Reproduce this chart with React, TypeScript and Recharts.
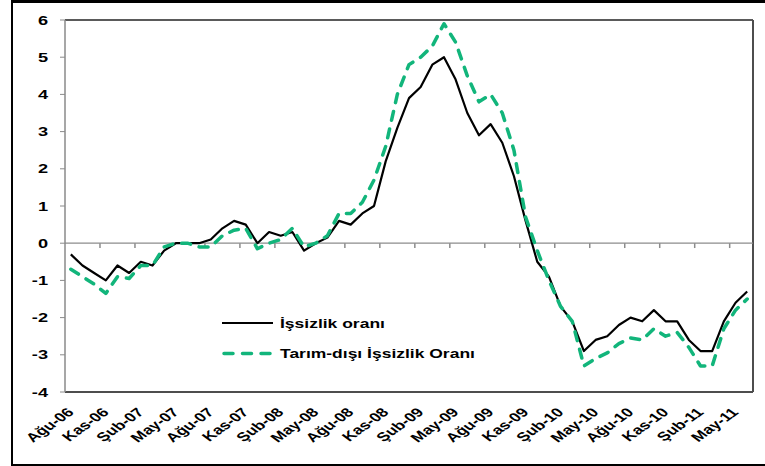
import React from 'react';
import { LineChart, Line, XAxis, YAxis, ReferenceLine, Legend } from 'recharts';

// Monthly categories (Ağu-06 .. Haz-11)
const months = [
  'Ağu-06', 'Eyl-06', 'Eki-06', 'Kas-06', 'Ara-06',
  'Oca-07', 'Şub-07', 'Mar-07', 'Nis-07', 'May-07', 'Haz-07', 'Tem-07', 'Ağu-07', 'Eyl-07', 'Eki-07', 'Kas-07', 'Ara-07',
  'Oca-08', 'Şub-08', 'Mar-08', 'Nis-08', 'May-08', 'Haz-08', 'Tem-08', 'Ağu-08', 'Eyl-08', 'Eki-08', 'Kas-08', 'Ara-08',
  'Oca-09', 'Şub-09', 'Mar-09', 'Nis-09', 'May-09', 'Haz-09', 'Tem-09', 'Ağu-09', 'Eyl-09', 'Eki-09', 'Kas-09', 'Ara-09',
  'Oca-10', 'Şub-10', 'Mar-10', 'Nis-10', 'May-10', 'Haz-10', 'Tem-10', 'Ağu-10', 'Eyl-10', 'Eki-10', 'Kas-10', 'Ara-10',
  'Oca-11', 'Şub-11', 'Mar-11', 'Nis-11', 'May-11', 'Haz-11',
];

// İşsizlik oranı (yıllık değişim, puan)
const issizlik = [
  -0.3, -0.6, -0.8, -1.0, -0.6, -0.8, -0.5, -0.6, -0.2, 0.0,
  0.0, 0.0, 0.1, 0.4, 0.6, 0.5, 0.0, 0.3, 0.2, 0.3,
  -0.2, 0.0, 0.15, 0.6, 0.5, 0.8, 1.0, 2.2, 3.1, 3.9,
  4.2, 4.8, 5.0, 4.4, 3.5, 2.9, 3.2, 2.7, 1.8, 0.6,
  -0.5, -0.9, -1.7, -2.1, -2.9, -2.6, -2.5, -2.2, -2.0, -2.1,
  -1.8, -2.1, -2.1, -2.6, -2.9, -2.9, -2.1, -1.6, -1.3,
];

// Tarım-dışı İşsizlik Oranı
const tarimDisi = [
  -0.7, -0.9, -1.1, -1.35, -0.9, -0.95, -0.6, -0.6, -0.1, 0.0,
  0.0, -0.1, -0.1, 0.2, 0.35, 0.4, -0.15, 0.0, 0.1, 0.4,
  -0.1, 0.0, 0.2, 0.8, 0.8, 1.1, 1.7, 2.6, 4.0, 4.8,
  5.0, 5.3, 5.9, 5.4, 4.5, 3.8, 4.0, 3.5, 2.5, 0.7,
  -0.2, -1.0, -1.7, -2.1, -3.3, -3.1, -2.95, -2.7, -2.55, -2.6,
  -2.3, -2.5, -2.4, -2.8, -3.3, -3.3, -2.3, -1.8, -1.5,
];

const seriesNames = ['İşsizlik oranı', 'Tarım-dışı İşsizlik Oranı'];
const yTicks = [-4, -3, -2, -1, 0, 1, 2, 3, 4, 5, 6];
const labelStep = 3;

const FONT = '"Liberation Sans", Arial, sans-serif';
const SX = 1.4;
const GREEN = '#12b57b';

const data = months.map((m, i) => ({ i, m, a: issizlik[i], b: tarimDisi[i] }));
const xTicks = months.map((_, i) => i).filter((i) => i % labelStep === 0);
const boundaryTicks = months
  .map((_, k) => k)
  .filter((k) => k > 0 && k % labelStep === 0)
  .map((k) => k - 0.5);

const series = [
  { key: 'a', name: seriesNames[0], color: '#000000', width: 2.2, dash: undefined as string | undefined, legendDash: undefined as string | undefined, legendWidth: 2 },
  { key: 'b', name: seriesNames[1], color: GREEN, width: 3.5, dash: '9 9', legendDash: '9 9.5', legendWidth: 3.5 },
];

const XTick = (props: any) => {
  const { x, y, payload } = props;
  return (
    <g transform={`translate(${x + 4},${y + 21})`}>
      <text
        transform={`scale(${SX},1) rotate(-45)`}
        textAnchor="end"
        fontFamily={FONT}
        fontWeight="bold"
        fontSize={12.5}
        fill="#000"
      >
        {months[payload.value]}
      </text>
    </g>
  );
};

const YTick = (props: any) => {
  const { x, y, payload } = props;
  return (
    <g transform={`translate(${x},${y})`}>
      <text
        transform={`scale(${SX},1)`}
        textAnchor="end"
        dy="0.36em"
        fontFamily={FONT}
        fontWeight="bold"
        fontSize={13}
        fill="#000"
      >
        {payload.value}
      </text>
    </g>
  );
};

const renderLegend = (props: any) => {
  const payload = props.payload || [];
  return (
    <svg width={300} height={60} style={{ overflow: 'visible', display: 'block' }}>
      {payload.map((entry: any) => {
        const idx = Math.max(0, series.findIndex((q) => q.key === entry.dataKey));
        const s = series[idx];
        const cy = 18 + idx * 30.5;
        return (
          <g key={s.key}>
            <line
              x1={s.legendDash ? 9 : 7}
              x2={s.legendDash ? 55 : 58}
              y1={cy}
              y2={cy}
              stroke={s.color}
              strokeWidth={s.legendWidth}
              strokeDasharray={s.legendDash}
              strokeLinecap={s.legendDash ? 'round' : 'butt'}
            />
            <text
              transform={`translate(65,${cy + 4.5}) scale(${SX},1)`}
              fontFamily={FONT}
              fontWeight="bold"
              fontSize={12.5}
              fill="#000"
            >
              {entry.value}
            </text>
          </g>
        );
      })}
    </svg>
  );
};

export default function App() {
  return (
    <div style={{ position: 'absolute', left: 0, top: 0, width: 765, height: 466, overflow: 'hidden', background: '#fff' }}>
      <div
        style={{
          position: 'absolute',
          left: 11,
          top: 0,
          width: 800,
          height: 466,
          boxSizing: 'border-box',
          borderLeft: '2px solid #000',
          borderTop: '3px solid #000',
          borderBottom: '2.5px solid #000',
        }}
      />
      <div style={{ position: 'absolute', left: 0, top: 0 }}>
        <LineChart width={765} height={466} data={data} margin={{ top: 20, right: 12, bottom: 4, left: 10 }}>
          <XAxis
            dataKey="i"
            type="number"
            domain={[-0.5, 58.5]}
            ticks={xTicks}
            interval={0}
            axisLine={false}
            tickLine={false}
            tickSize={0}
            tickMargin={0}
            height={70}
            tick={<XTick />}
            allowDataOverflow
          />
          <YAxis
            domain={[-4, 6]}
            ticks={yTicks}
            interval={0}
            width={55}
            axisLine={{ stroke: '#8a8a8a', strokeWidth: 1.5 }}
            tickLine={{ stroke: '#8a8a8a', strokeWidth: 1 }}
            tickSize={5}
            tickMargin={12}
            tick={<YTick />}
            allowDataOverflow
          />
          <ReferenceLine y={6} stroke="#5a5a5a" strokeWidth={2} />
          <ReferenceLine y={-4} stroke="#4d4d4d" strokeWidth={2} />
          <ReferenceLine x={58.5} stroke="#4d4d4d" strokeWidth={2} />
          <ReferenceLine y={0} stroke="#8c8c8c" strokeWidth={1.2} />
          {boundaryTicks.map((b) => (
            <ReferenceLine
              key={b}
              segment={[
                { x: b, y: 0 },
                { x: b, y: -0.13 },
              ]}
              stroke="#8c8c8c"
              strokeWidth={1.5}
            />
          ))}
          {series.map((s) => (
            <Line
              key={s.key}
              dataKey={s.key}
              name={s.name}
              type="linear"
              stroke={s.color}
              strokeWidth={s.width}
              strokeDasharray={s.dash}
              strokeLinecap={s.dash ? 'round' : 'butt'}
              strokeLinejoin="round"
              dot={false}
              activeDot={false}
              isAnimationActive={false}
            />
          ))}
          <Legend
            layout="horizontal"
            verticalAlign="middle"
            align="center"
            content={renderLegend}
            wrapperStyle={{ left: 215, top: 305, width: 300, height: 60 }}
          />
        </LineChart>
      </div>
    </div>
  );
}
